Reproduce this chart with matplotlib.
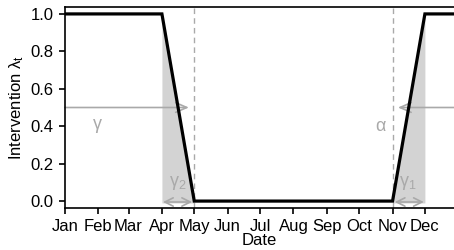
import numpy as np
import matplotlib.pyplot as plt

plt.rcParams['font.family'] = ['Liberation Sans', 'DejaVu Sans']
plt.rcParams['mathtext.fontset'] = 'custom'
plt.rcParams['mathtext.rm'] = 'Liberation Sans'
plt.rcParams['mathtext.it'] = 'Liberation Sans'

# day of year at start of each month
month_days = [0, 31, 59, 90, 120, 151, 181, 212, 243, 273, 304, 334]
month_labels = ["Jan", "Feb", "Mar", "Apr", "May", "Jun",
                "Jul", "Aug", "Sep", "Oct", "Nov", "Dec"]

# intervention curve lambda_t (piecewise linear)
curve_days = [0, 90, 120, 304, 334, 365]
curve_vals = [1.0, 1.0, 0.0, 0.0, 1.0, 1.0]

start_drop, end_drop = 90, 120   # gamma2 window
start_rise, end_rise = 304, 334  # gamma1 window

shade = "#d3d3d3"
grey = "#a9a9a9"

fig = plt.figure(figsize=(4.54, 2.5), dpi=100)
ax = fig.add_axes([0.143, 0.168, 0.857, 0.804])

# shaded transition areas
xs = np.array([start_drop, end_drop])
ax.fill_between(xs, np.interp(xs, curve_days, curve_vals), -0.01,
                color=shade, lw=0, zorder=1)
xs = np.array([start_rise, end_rise])
ax.fill_between(xs, np.interp(xs, curve_days, curve_vals), -0.01,
                color=shade, lw=0, zorder=1)

# dashed markers at end of drop / start of rise
for d in (end_drop, start_rise):
    ax.axvline(d, color=grey, ls=(0, (4, 3)), lw=1, zorder=2)

# horizontal arrows for gamma and alpha
arr = dict(arrowstyle="->,head_length=0.8,head_width=0.35", color=grey, lw=1.2,
           shrinkA=0, shrinkB=0)
ax.annotate("", xy=(end_drop - 5, 0.5), xytext=(0, 0.5), arrowprops=arr, zorder=2)
ax.annotate("", xy=(start_rise + 5, 0.5), xytext=(361, 0.5), arrowprops=arr, zorder=2)
ax.text(30, 0.40, r"$\mathrm{\gamma}$", color=grey, fontsize=13, ha="center", va="center")
ax.text(293, 0.40, r"$\mathrm{\alpha}$", color=grey, fontsize=13, ha="center", va="center")

# double arrows for gamma2 / gamma1
darr = dict(arrowstyle="<->,head_length=0.6,head_width=0.3", color=grey, lw=1.2,
            shrinkA=0, shrinkB=0)
ax.annotate("", xy=(end_drop - 2, -0.005), xytext=(start_drop + 1, -0.005),
            arrowprops=darr, zorder=2)
ax.annotate("", xy=(end_rise - 1, -0.005), xytext=(start_rise + 2, -0.005),
            arrowprops=darr, zorder=2)
ax.text(105, 0.095, r"$\mathrm{\gamma_2}$", color=grey, fontsize=13, ha="center", va="center")
ax.text(318, 0.095, r"$\mathrm{\gamma_1}$", color=grey, fontsize=13, ha="center", va="center")

# the curve itself
ax.plot(curve_days, curve_vals, color="black", lw=2.3, zorder=3,
        solid_joinstyle="miter")

ax.set_xlim(0, 361)
ax.set_ylim(-0.037, 1.037)
ax.set_xticks(month_days)
ax.set_xticklabels(month_labels)
ax.set_yticks(np.arange(0, 1.01, 0.2))
ax.set_yticklabels(["0.0", "0.2", "0.4", "0.6", "0.8", "1.0"])
ax.tick_params(direction="out", length=4.5, width=1.2, labelsize=12)
ax.tick_params(axis="x", pad=3.5)
ax.tick_params(axis="y", pad=3.5)
ax.spines["right"].set_visible(False)
for s in ("left", "bottom", "top"):
    ax.spines[s].set_linewidth(1.2)

ax.set_xlabel("Date", fontsize=12, labelpad=-1)
ax.set_ylabel(r"Intervention $\mathrm{\lambda_t}$", fontsize=12)
ax.yaxis.set_label_coords(-0.1, 0.5)

fig.savefig("out.png", dpi=100)
